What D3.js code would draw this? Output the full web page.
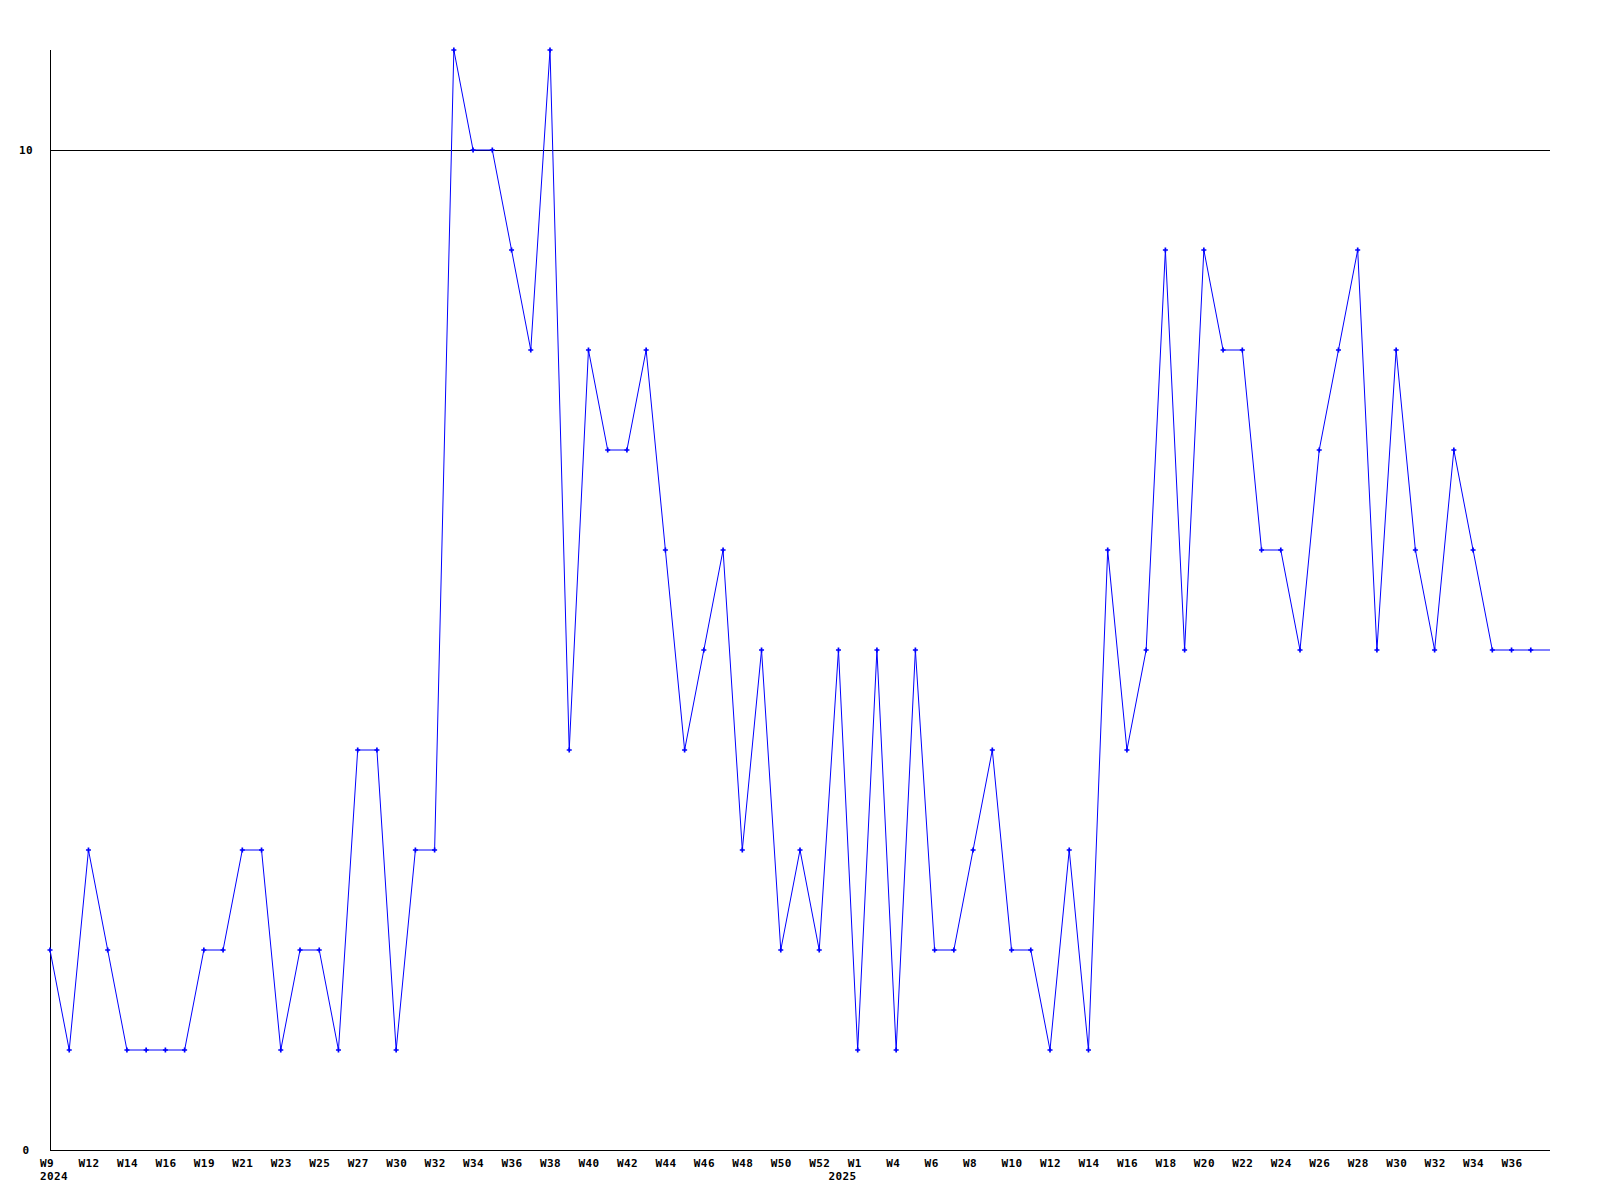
<!DOCTYPE html>
<html>
<head>
<meta charset="utf-8">
<script src="https://cdn.jsdelivr.net/npm/d3@7"></script>
<style>
  body { margin: 0; background: #fff; }
  text { font-family: "DejaVu Sans Mono", "Liberation Mono", monospace; font-weight: bold; font-size: 11px; letter-spacing: 0.4px; fill: #000; }
</style>
</head>
<body>
<script>
// counts per period, oldest first (last one is the running period, no marker)
var counts = [2, 1, 3, 2, 1, 1, 1, 1, 2, 2, 3, 3, 1, 2, 2, 1, 4, 4, 1, 3, 3,
  11, 10, 10, 9, 8, 11, 4, 8, 7, 7, 8, 6, 4, 5, 6, 3, 5, 2, 3, 2, 5, 1, 5, 1, 5,
  2, 2, 3, 4, 2, 2, 1, 3, 1, 6, 4, 5, 9, 5, 9, 8, 8, 6, 6, 5, 7, 8, 9, 5, 8, 6,
  5, 7, 6, 5, 5, 5, 5];

// week labels, one on every second point
var weekLabels = ["W9", "W12", "W14", "W16", "W19", "W21", "W23", "W25", "W27",
  "W30", "W32", "W34", "W36", "W38", "W40", "W42", "W44", "W46", "W48", "W50",
  "W52", "W1", "W4", "W6", "W8", "W10", "W12", "W14", "W16", "W18", "W20", "W22",
  "W24", "W26", "W28", "W30", "W32", "W34", "W36"];

// year labels and the point index where they start
var yearLabels = ["2024", "2025"];
var yearIndex = [0, 41];

var yTicks = [0, 10];

var width = 1600, height = 1200;
var margin = { top: 50, right: 50, bottom: 50, left: 50 };

var svg = d3.select("body").append("svg")
  .attr("width", width)
  .attr("height", height);

var x = d3.scaleLinear()
  .domain([0, counts.length - 1])
  .range([margin.left, width - margin.right]);

var y = d3.scaleLinear()
  .domain([0, 11])
  .range([height - margin.bottom, margin.top]);

// axes: left line, plus lines at 0 and 10
svg.append("line")
  .attr("x1", x(0)).attr("x2", x(0))
  .attr("y1", y(11)).attr("y2", y(0))
  .attr("stroke", "#000").attr("shape-rendering", "crispEdges");

svg.selectAll("line.grid")
  .data(yTicks)
  .enter()
  .append("line")
  .attr("class", "grid")
  .attr("x1", x(0)).attr("x2", x(counts.length - 1))
  .attr("y1", function (d) { return y(d); })
  .attr("y2", function (d) { return y(d); })
  .attr("stroke", "#000").attr("shape-rendering", "crispEdges");

svg.selectAll("text.ylab")
  .data(yTicks)
  .enter()
  .append("text")
  .attr("class", "ylab")
  .attr("x", 26)
  .attr("y", function (d) { return y(d) + 4; })
  .attr("text-anchor", "middle")
  .text(function (d) { return d; });

// x labels
svg.selectAll("text.xlab")
  .data(weekLabels)
  .enter()
  .append("text")
  .attr("class", "xlab")
  .attr("x", function (d, i) { return x(i * 2) - 10; })
  .attr("y", y(0) + 16.5)
  .text(function (d) { return d; });

svg.selectAll("text.year")
  .data(yearLabels)
  .enter()
  .append("text")
  .attr("class", "year")
  .attr("x", function (d, i) { return x(yearIndex[i]) - 10; })
  .attr("y", y(0) + 30)
  .text(function (d) { return d; });

// the line
var line = d3.line()
  .x(function (d, i) { return x(i); })
  .y(function (d) { return y(d); });

svg.append("path")
  .datum(counts)
  .attr("d", line)
  .attr("fill", "none")
  .attr("stroke", "#0000ff")
  .attr("stroke-width", 1);

// markers
var marker = d3.symbol().type(d3.symbolCross).size(14);
svg.selectAll("path.pt")
  .data(counts.slice(0, counts.length - 1))
  .enter()
  .append("path")
  .attr("class", "pt")
  .attr("d", marker)
  .attr("transform", function (d, i) { return "translate(" + x(i) + "," + y(d) + ")"; })
  .attr("fill", "#0000ff");
</script>
</body>
</html>
